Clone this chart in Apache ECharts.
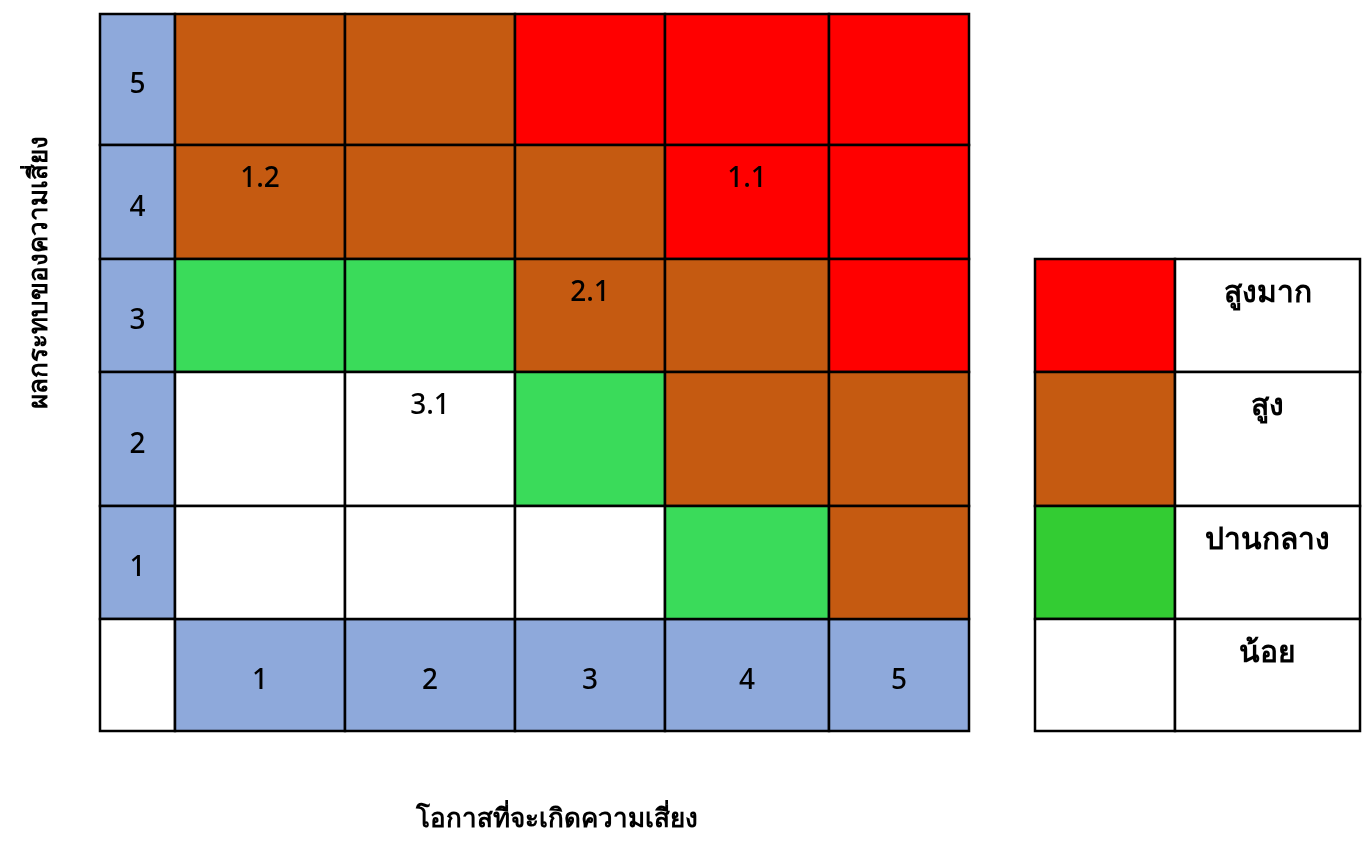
<!DOCTYPE html>
<html>
<head>
<meta charset="utf-8">
<script src="https://cdn.jsdelivr.net/npm/echarts@6/dist/echarts.min.js"></script>
<style>
html,body{margin:0;padding:0;background:#fff;}
#chart{width:1368px;height:844px;}
</style>
</head>
<body>
<div id="chart"></div>
<script>
// ---------- data ----------
const likelihoodLabels = ['1', '2', '3', '4', '5'];
const impactLabels = ['5', '4', '3', '2', '1']; // top to bottom
// risk level per cell, rows = impact 5..1, cols = likelihood 1..5
// 0 = low (น้อย), 1 = medium (ปานกลาง), 2 = high (สูง), 3 = very high (สูงมาก)
const impact5 = [2, 2, 3, 3, 3];
const impact4 = [2, 2, 2, 3, 3];
const impact3 = [1, 1, 2, 2, 3];
const impact2 = [0, 0, 1, 2, 2];
const impact1 = [0, 0, 0, 1, 2];
const riskIds = ['1.2', '1.1', '2.1', '3.1'];
const riskLikelihood = [1, 4, 3, 2];
const riskImpact = [4, 4, 3, 2];
const legendLabels = ['สูงมาก', 'สูง', 'ปานกลาง', 'น้อย'];
const legendLevels = [3, 2, 1, 0];
const xTitle = 'โอกาสที่จะเกิดความเสี่ยง';
const yTitle = 'ผลกระทบของความเสี่ยง';

// ---------- layout / style ----------
const colWidths = [75, 170, 170, 150, 164, 140];   // header column + 5 likelihood columns
const rowHeights = [131, 114, 113, 134, 113, 112]; // impact 5..1 + header row
const legendColWidths = [140, 185];
const legendRowHeights = [113, 134, 113, 112];
const levelColors = ['#FFFFFF', '#3ADB5A', '#C55A11', '#FF0000'];
const legendColors = ['#FFFFFF', '#33CC33', '#C55A11', '#FF0000'];
const headerColor = '#8EA9DB';
const FONT = '"Noto Sans", "DejaVu Sans", sans-serif';

function edges(sizes) { const e = [0]; sizes.forEach(s => e.push(e[e.length - 1] + s)); return e; }
const colEdges = edges(colWidths), rowEdges = edges(rowHeights);
const lColEdges = edges(legendColWidths), lRowEdges = edges(legendRowHeights);

// ---------- build cells ----------
const levels = [impact5, impact4, impact3, impact2, impact1];
const matrixCells = []; // [col, row, fill, label, labelPos]
impactLabels.forEach((lab, r) => matrixCells.push([0, r, headerColor, lab, 'center']));
matrixCells.push([0, 5, '#FFFFFF', '', 'center']);
likelihoodLabels.forEach((lab, c) => matrixCells.push([c + 1, 5, headerColor, lab, 'center']));
levels.forEach((row, r) => row.forEach((lv, c) => {
  const imp = 5 - r, lik = c + 1;
  let label = '';
  riskIds.forEach((id, k) => { if (riskLikelihood[k] === lik && riskImpact[k] === imp) label = id; });
  matrixCells.push([c + 1, r, levelColors[lv], label, 'top']);
}));
const legendCells = [];
legendLabels.forEach((lab, r) => {
  legendCells.push([0, r, legendColors[legendLevels[r]], '', 'top']);
  legendCells.push([1, r, '#FFFFFF', lab, 'top']);
});

function makeRender(cEdges, rEdges, fontSize, fontWeight) {
  return function (params, api) {
    const c = api.value(0), r = api.value(1);
    const fill = api.value(2), label = api.value(3), pos = api.value(4);
    const p0 = api.coord([cEdges[c], rEdges[r]]);
    const p1 = api.coord([cEdges[c + 1], rEdges[r + 1]]);
    const x = p0[0], y = p0[1], w = p1[0] - p0[0], h = p1[1] - p0[1];
    const children = [{
      type: 'rect',
      shape: { x: x, y: y, width: w, height: h },
      style: { fill: fill, stroke: '#000', lineWidth: 2.5 }
    }];
    if (label) {
      const isTop = pos === 'top';
      children.push({
        type: 'text',
        style: {
          text: label, x: x + w / 2, y: isTop ? y + 34 : y + h / 2 + 6,
          align: 'center', verticalAlign: 'middle',
          font: fontWeight + ' ' + fontSize + 'px ' + FONT, fill: '#000'
        }
      });
    }
    return { type: 'group', children: children };
  };
}

const chart = echarts.init(document.getElementById('chart'));
chart.setOption({
  animation: false,
  backgroundColor: '#fff',
  grid: [
    { left: 100, top: 14, width: colEdges[6], height: rowEdges[6] },
    { left: 1035, top: 259, width: lColEdges[2], height: lRowEdges[4] }
  ],
  xAxis: [
    { gridIndex: 0, type: 'value', min: 0, max: colEdges[6], show: false },
    { gridIndex: 1, type: 'value', min: 0, max: lColEdges[2], show: false }
  ],
  yAxis: [
    { gridIndex: 0, type: 'value', min: 0, max: rowEdges[6], inverse: true, show: false },
    { gridIndex: 1, type: 'value', min: 0, max: lRowEdges[4], inverse: true, show: false }
  ],
  graphic: [
    { type: 'text', x: 557, y: 820, style: { text: xTitle, font: 'bold 26px ' + FONT, fill: '#000', align: 'center', verticalAlign: 'middle' } },
    { type: 'text', x: 40, y: 272, rotation: Math.PI / 2, style: { text: yTitle, font: 'bold 26px ' + FONT, fill: '#000', align: 'center', verticalAlign: 'middle' } }
  ],
  series: [
    {
      type: 'custom', xAxisIndex: 0, yAxisIndex: 0,
      renderItem: makeRender(colEdges, rowEdges, 28, '500'),
      data: matrixCells, silent: true
    },
    {
      type: 'custom', xAxisIndex: 1, yAxisIndex: 1,
      renderItem: makeRender(lColEdges, lRowEdges, 30, 'bold'),
      data: legendCells, silent: true
    }
  ]
});
</script>
</body>
</html>
